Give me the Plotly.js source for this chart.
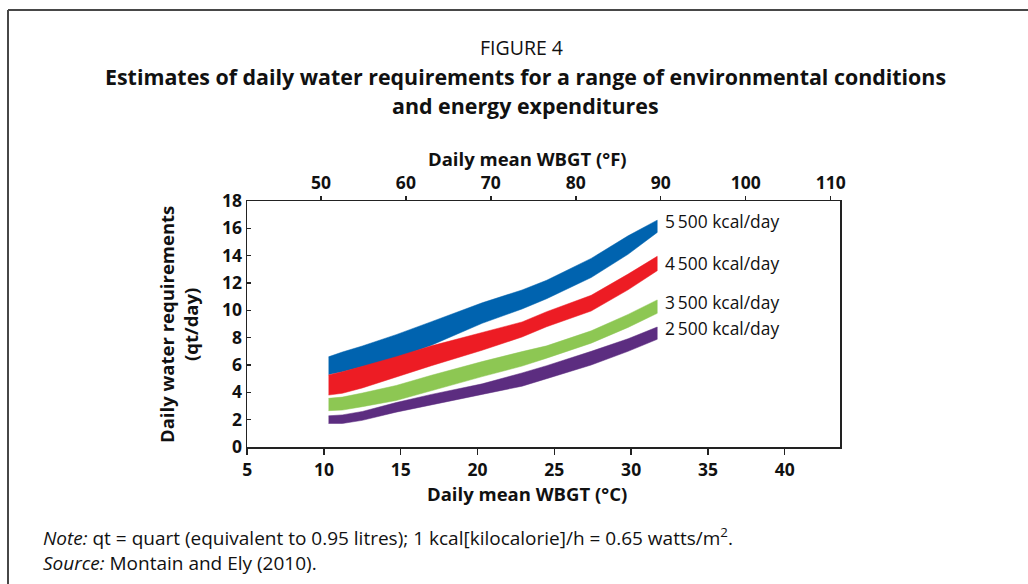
<!DOCTYPE html>
<html>
<head>
<meta charset="utf-8">
<script src="https://cdn.plot.ly/plotly-3.0.1.min.js"></script>
<style>
  html, body { margin: 0; padding: 0; background: #ffffff; }
  #chart { width: 1028px; height: 584px; }
</style>
</head>
<body>
<div id="chart"></div>
<script>
// Temperature (°C) sample points along each band
const tempC = [10.3, 11.2, 12.5, 14.7, 17.0, 20.3, 22.9, 24.5, 27.4, 29.8, 31.7];

// Band edges (daily water requirement, qt/day)
const upper5500 = [6.6, 6.95, 7.39, 8.22, 9.17, 10.55, 11.49, 12.2, 13.8, 15.45, 16.6];
const lower5500 = [5.3, 5.5, 5.85, 6.5, 7.45, 9.05, 10.1, 10.85, 12.4, 14.1, 15.7];
const upper4500 = [5.27, 5.5, 5.9, 6.6, 7.4, 8.37, 9.15, 9.9, 11.1, 12.65, 13.95];
const lower4500 = [3.8, 3.93, 4.32, 5.1, 5.95, 7.08, 8.05, 8.8, 9.95, 11.5, 12.9];
const upper3500 = [3.56, 3.65, 3.95, 4.5, 5.25, 6.25, 6.98, 7.4, 8.5, 9.7, 10.76];
const lower3500 = [2.66, 2.7, 2.95, 3.4, 4.1, 5.15, 5.92, 6.5, 7.6, 8.75, 9.78];
const upper2500 = [2.28, 2.35, 2.6, 3.25, 3.85, 4.62, 5.42, 5.95, 7.0, 7.92, 8.78];
const lower2500 = [1.72, 1.72, 1.95, 2.55, 3.1, 3.85, 4.45, 5.0, 6.0, 7.0, 7.88];

const bandNames = ["5\u2009500 kcal/day", "4\u2009500 kcal/day", "3\u2009500 kcal/day", "2\u2009500 kcal/day"];
const bandColors = ["#0063AF", "#ED1C24", "#8DC753", "#5C2D80"];
const labelY = [16.54, 13.46, 10.61, 8.71];
const labelX = 32.1;

// Axis ticks
const tickC = [5, 10, 15, 20, 25, 30, 35, 40];
const tickF = [50, 60, 70, 80, 90, 100, 110];
const tickQt = [0, 2, 4, 6, 8, 10, 12, 14, 16, 18];
const rangeC = [4.99, 43.6];
const rangeF = [41.3, 111.1];

const uppers = [upper5500, upper4500, upper3500, upper2500];
const lowers = [lower5500, lower4500, lower3500, lower2500];

const traces = uppers.map((u, i) => ({
  type: "scatter",
  mode: "lines",
  x: tempC.concat(tempC.slice().reverse()),
  y: u.concat(lowers[i].slice().reverse()),
  fill: "toself",
  fillcolor: bandColors[i],
  line: { color: bandColors[i], width: 0.5 },
  hoverinfo: "skip",
  showlegend: false,
  name: bandNames[i]
}));

// invisible trace to attach the Fahrenheit axis
traces.push({
  type: "scatter", mode: "markers", xaxis: "x2", yaxis: "y",
  x: tickF, y: tickF.map(() => 0),
  marker: { opacity: 0 }, hoverinfo: "skip", showlegend: false
});

const W = 1028, H = 584;
const L = 247, R = 840, T = 201, B = 447;
const px = v => (v - L) / (R - L);
const py = v => (B - v) / (B - T);

const FAM = "Open Sans, sans-serif";
const tickFont = { family: FAM, size: 17.5, color: "#111", weight: "bold" };
const titleFont = { family: FAM, size: 18.5, color: "#111", weight: "bold" };
const noteFont = { family: FAM, size: 19, color: "#111" };

const annotations = [
  { text: "FIGURE 4", x: px(521), y: py(47), font: { family: FAM, size: 19.5, color: "#111" } },
  { text: "Estimates of daily water requirements for a range of environmental conditions", x: px(525), y: py(77), font: { family: FAM, size: 21.4, color: "#111", weight: "bold" } },
  { text: "and energy expenditures", x: px(525), y: py(105), font: { family: FAM, size: 21.4, color: "#111", weight: "bold" } },
  { text: "Daily mean WBGT (°F)", x: px(527), y: py(158), font: titleFont },
  { text: "Daily mean WBGT (°C)", x: px(527), y: py(493), font: titleFont },
  { text: "Daily water requirements<br>(qt/day)", x: px(178), y: py(325), textangle: -90, font: titleFont },
  { text: "<i>Note:</i> qt = quart (equivalent to 0.95 litres); 1 kcal[kilocalorie]/h = 0.65 watts/m<sup>2</sup>.<br><i>Source:</i> Montain and Ely (2010).", x: px(41), y: py(549), xanchor: "left", align: "left", font: noteFont }
].map(a => Object.assign({ xref: "paper", yref: "paper", showarrow: false, xanchor: "center", yanchor: "middle" }, a));

bandNames.forEach((n, i) => {
  annotations.push({
    text: n, x: labelX, y: labelY[i], xref: "x", yref: "y",
    xanchor: "left", yanchor: "middle", showarrow: false,
    font: { family: FAM, size: 17.4, color: "#111" }
  });
});

const layout = {
  width: W, height: H,
  margin: { l: L, r: W - R, t: T, b: H - B, pad: 0 },
  paper_bgcolor: "#ffffff",
  plot_bgcolor: "#ffffff",
  showlegend: false,
  xaxis: {
    range: rangeC, tickvals: tickC, ticktext: tickC.map(String),
    ticks: "outside", ticklen: 6, tickwidth: 1.5, tickcolor: "#222",
    showline: true, linecolor: "#222", linewidth: 1.5,
    showgrid: false, zeroline: false, tickfont: tickFont
  },
  xaxis2: {
    overlaying: "x", side: "top", anchor: "y",
    range: rangeF, tickvals: tickF, ticktext: tickF.map(String),
    ticks: "outside", ticklen: 4, tickwidth: 1.5, tickcolor: "#222",
    showline: true, linecolor: "#222", linewidth: 1.5,
    showgrid: false, zeroline: false, tickfont: tickFont
  },
  yaxis: {
    range: [0, 18], tickvals: tickQt, ticktext: tickQt.map(String),
    ticks: "inside", ticklen: 4, tickwidth: 1.5, tickcolor: "#222",
    showline: true, mirror: true, linecolor: "#222", linewidth: 1.5,
    showgrid: false, zeroline: false, tickfont: tickFont
  },
  annotations: annotations,
  shapes: [
    { type: "line", xref: "paper", yref: "paper", x0: px(8), x1: px(8), y0: py(10), y1: py(600), line: { color: "#474747", width: 2 } },
    { type: "line", xref: "paper", yref: "paper", x0: px(8), x1: px(1040), y0: py(10), y1: py(10), line: { color: "#474747", width: 2 } }
  ]
};

Plotly.newPlot("chart", traces, layout, { staticPlot: true, displayModeBar: false });
</script>
</body>
</html>
